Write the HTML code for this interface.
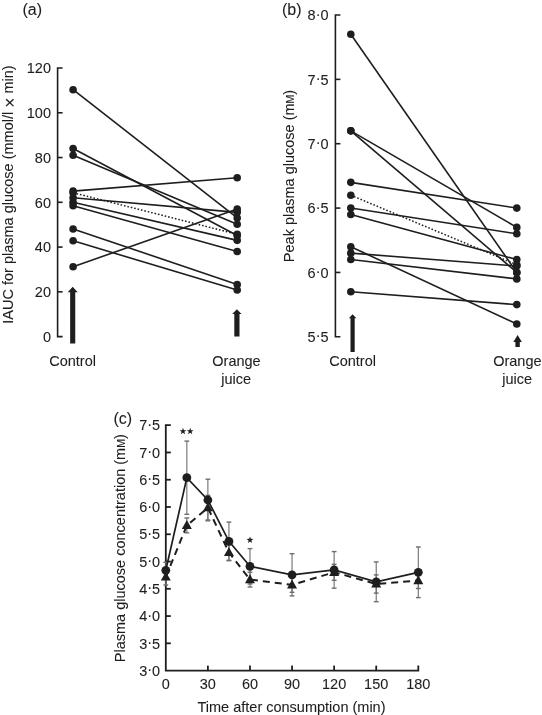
<!DOCTYPE html>
<html><head><meta charset="utf-8"><style>
html,body{margin:0;padding:0;background:#fff;}
svg{display:block;font-family:"Liberation Sans",sans-serif;will-change:transform;}
text{fill:#1e1e1e;stroke:#1e1e1e;stroke-width:0.08px;}
</style></head><body>
<svg width="542" height="715" viewBox="0 0 542 715">
<rect width="542" height="715" fill="#fff"/>
<text x="22.50" y="15.20" font-size="16" text-anchor="start" >(a)</text>
<path d="M62.6 68.0 H57.6 V336.6 H62.6" fill="none" stroke="#1e1e1e" stroke-width="1.6"/>
<line x1="57.60" y1="291.83" x2="62.60" y2="291.83" stroke="#1e1e1e" stroke-width="1.6" />
<line x1="57.60" y1="247.07" x2="62.60" y2="247.07" stroke="#1e1e1e" stroke-width="1.6" />
<line x1="57.60" y1="202.30" x2="62.60" y2="202.30" stroke="#1e1e1e" stroke-width="1.6" />
<line x1="57.60" y1="157.53" x2="62.60" y2="157.53" stroke="#1e1e1e" stroke-width="1.6" />
<line x1="57.60" y1="112.77" x2="62.60" y2="112.77" stroke="#1e1e1e" stroke-width="1.6" />
<text x="51.00" y="341.80" font-size="14.5" text-anchor="end" >0</text>
<text x="51.00" y="297.03" font-size="14.5" text-anchor="end" >20</text>
<text x="51.00" y="252.27" font-size="14.5" text-anchor="end" >40</text>
<text x="51.00" y="207.50" font-size="14.5" text-anchor="end" >60</text>
<text x="51.00" y="162.73" font-size="14.5" text-anchor="end" >80</text>
<text x="51.00" y="117.97" font-size="14.5" text-anchor="end" >100</text>
<text x="51.00" y="73.20" font-size="14.5" text-anchor="end" >120</text>
<text transform="translate(12.7,194.5) rotate(-90)" font-size="14.5" text-anchor="middle">IAUC for plasma glucose (mmol/l <tspan font-size="17.5" dy="3.2">×</tspan><tspan dy="-3.2"> min)</tspan></text>
<line x1="73.10" y1="89.71" x2="237.20" y2="217.97" stroke="#1e1e1e" stroke-width="1.6" />
<line x1="73.10" y1="148.58" x2="237.20" y2="235.43" stroke="#1e1e1e" stroke-width="1.6" />
<line x1="73.10" y1="155.30" x2="237.20" y2="224.24" stroke="#1e1e1e" stroke-width="1.6" />
<line x1="73.10" y1="191.11" x2="237.20" y2="177.68" stroke="#1e1e1e" stroke-width="1.6" />
<line x1="73.10" y1="197.82" x2="237.20" y2="212.37" stroke="#1e1e1e" stroke-width="1.6" />
<line x1="73.10" y1="202.30" x2="237.20" y2="240.35" stroke="#1e1e1e" stroke-width="1.6" />
<line x1="73.10" y1="205.66" x2="237.20" y2="251.54" stroke="#1e1e1e" stroke-width="1.6" />
<line x1="73.10" y1="228.94" x2="237.20" y2="284.45" stroke="#1e1e1e" stroke-width="1.6" />
<line x1="73.10" y1="240.80" x2="237.20" y2="290.04" stroke="#1e1e1e" stroke-width="1.6" />
<line x1="73.10" y1="266.76" x2="237.20" y2="209.02" stroke="#1e1e1e" stroke-width="1.6" />
<line x1="73.10" y1="192.70" x2="237.20" y2="234.31" stroke="#1e1e1e" stroke-width="1.5" stroke-dasharray="1.6 1.9"/>
<circle cx="73.10" cy="89.71" r="3.8" fill="#1e1e1e"/>
<circle cx="237.20" cy="217.97" r="3.8" fill="#1e1e1e"/>
<circle cx="73.10" cy="148.58" r="3.8" fill="#1e1e1e"/>
<circle cx="237.20" cy="235.43" r="3.8" fill="#1e1e1e"/>
<circle cx="73.10" cy="155.30" r="3.8" fill="#1e1e1e"/>
<circle cx="237.20" cy="224.24" r="3.8" fill="#1e1e1e"/>
<circle cx="73.10" cy="191.11" r="3.8" fill="#1e1e1e"/>
<circle cx="237.20" cy="177.68" r="3.8" fill="#1e1e1e"/>
<circle cx="73.10" cy="197.82" r="3.8" fill="#1e1e1e"/>
<circle cx="237.20" cy="212.37" r="3.8" fill="#1e1e1e"/>
<circle cx="73.10" cy="202.30" r="3.8" fill="#1e1e1e"/>
<circle cx="237.20" cy="240.35" r="3.8" fill="#1e1e1e"/>
<circle cx="73.10" cy="205.66" r="3.8" fill="#1e1e1e"/>
<circle cx="237.20" cy="251.54" r="3.8" fill="#1e1e1e"/>
<circle cx="73.10" cy="228.94" r="3.8" fill="#1e1e1e"/>
<circle cx="237.20" cy="284.45" r="3.8" fill="#1e1e1e"/>
<circle cx="73.10" cy="240.80" r="3.8" fill="#1e1e1e"/>
<circle cx="237.20" cy="290.04" r="3.8" fill="#1e1e1e"/>
<circle cx="73.10" cy="266.76" r="3.8" fill="#1e1e1e"/>
<circle cx="237.20" cy="209.02" r="3.8" fill="#1e1e1e"/>
<circle cx="73.10" cy="192.70" r="3.8" fill="#1e1e1e"/>
<circle cx="237.20" cy="234.31" r="3.8" fill="#1e1e1e"/>
<path d="M72.70 286.80 L77.70 292.20 L75.25 292.20 L75.25 343.40 L70.15 343.40 L70.15 292.20 L67.70 292.20 Z" fill="#1e1e1e"/>
<path d="M236.90 309.20 L241.55 314.10 L239.50 314.10 L239.50 336.50 L234.30 336.50 L234.30 314.10 L232.25 314.10 Z" fill="#1e1e1e"/>
<text x="72.60" y="366.40" font-size="14.5" text-anchor="middle" >Control</text>
<text x="236.50" y="366.40" font-size="14.5" text-anchor="middle" >Orange</text>
<text x="236.20" y="383.50" font-size="14.5" text-anchor="middle" >juice</text>
<text x="282.00" y="15.00" font-size="16" text-anchor="start" >(b)</text>
<path d="M340.4 15.0 H335.4 V336.8 H340.4" fill="none" stroke="#1e1e1e" stroke-width="1.6"/>
<line x1="335.40" y1="79.36" x2="340.40" y2="79.36" stroke="#1e1e1e" stroke-width="1.6" />
<line x1="335.40" y1="143.72" x2="340.40" y2="143.72" stroke="#1e1e1e" stroke-width="1.6" />
<line x1="335.40" y1="208.08" x2="340.40" y2="208.08" stroke="#1e1e1e" stroke-width="1.6" />
<line x1="335.40" y1="272.44" x2="340.40" y2="272.44" stroke="#1e1e1e" stroke-width="1.6" />
<text x="328.60" y="20.20" font-size="14.5" text-anchor="end" >8<tspan dy="-1.6">·</tspan><tspan dy="1.6">0</tspan></text>
<text x="328.60" y="84.56" font-size="14.5" text-anchor="end" >7<tspan dy="-1.6">·</tspan><tspan dy="1.6">5</tspan></text>
<text x="328.60" y="148.92" font-size="14.5" text-anchor="end" >7<tspan dy="-1.6">·</tspan><tspan dy="1.6">0</tspan></text>
<text x="328.60" y="213.28" font-size="14.5" text-anchor="end" >6<tspan dy="-1.6">·</tspan><tspan dy="1.6">5</tspan></text>
<text x="328.60" y="277.64" font-size="14.5" text-anchor="end" >6<tspan dy="-1.6">·</tspan><tspan dy="1.6">0</tspan></text>
<text x="328.60" y="342.00" font-size="14.5" text-anchor="end" >5<tspan dy="-1.6">·</tspan><tspan dy="1.6">5</tspan></text>
<text transform="translate(294.3,176) rotate(-90)" font-size="14.5" text-anchor="middle">Peak plasma glucose (m<tspan font-size="10.5">M</tspan>)</text>
<line x1="350.80" y1="34.31" x2="516.80" y2="272.44" stroke="#1e1e1e" stroke-width="1.6" />
<line x1="350.80" y1="130.85" x2="516.80" y2="227.39" stroke="#1e1e1e" stroke-width="1.6" />
<line x1="350.80" y1="130.85" x2="516.80" y2="272.44" stroke="#1e1e1e" stroke-width="1.6" />
<line x1="350.80" y1="182.34" x2="516.80" y2="208.08" stroke="#1e1e1e" stroke-width="1.6" />
<line x1="350.80" y1="208.08" x2="516.80" y2="233.82" stroke="#1e1e1e" stroke-width="1.6" />
<line x1="350.80" y1="214.52" x2="516.80" y2="259.57" stroke="#1e1e1e" stroke-width="1.6" />
<line x1="350.80" y1="246.70" x2="516.80" y2="323.93" stroke="#1e1e1e" stroke-width="1.6" />
<line x1="350.80" y1="253.13" x2="516.80" y2="266.00" stroke="#1e1e1e" stroke-width="1.6" />
<line x1="350.80" y1="259.57" x2="516.80" y2="278.88" stroke="#1e1e1e" stroke-width="1.6" />
<line x1="350.80" y1="291.75" x2="516.80" y2="304.62" stroke="#1e1e1e" stroke-width="1.6" />
<line x1="350.80" y1="195.21" x2="516.80" y2="264.72" stroke="#1e1e1e" stroke-width="1.5" stroke-dasharray="1.6 1.9"/>
<circle cx="350.80" cy="34.31" r="3.8" fill="#1e1e1e"/>
<circle cx="516.80" cy="272.44" r="3.8" fill="#1e1e1e"/>
<circle cx="350.80" cy="130.85" r="3.8" fill="#1e1e1e"/>
<circle cx="516.80" cy="227.39" r="3.8" fill="#1e1e1e"/>
<circle cx="350.80" cy="130.85" r="3.8" fill="#1e1e1e"/>
<circle cx="516.80" cy="272.44" r="3.8" fill="#1e1e1e"/>
<circle cx="350.80" cy="182.34" r="3.8" fill="#1e1e1e"/>
<circle cx="516.80" cy="208.08" r="3.8" fill="#1e1e1e"/>
<circle cx="350.80" cy="208.08" r="3.8" fill="#1e1e1e"/>
<circle cx="516.80" cy="233.82" r="3.8" fill="#1e1e1e"/>
<circle cx="350.80" cy="214.52" r="3.8" fill="#1e1e1e"/>
<circle cx="516.80" cy="259.57" r="3.8" fill="#1e1e1e"/>
<circle cx="350.80" cy="246.70" r="3.8" fill="#1e1e1e"/>
<circle cx="516.80" cy="323.93" r="3.8" fill="#1e1e1e"/>
<circle cx="350.80" cy="253.13" r="3.8" fill="#1e1e1e"/>
<circle cx="516.80" cy="266.00" r="3.8" fill="#1e1e1e"/>
<circle cx="350.80" cy="259.57" r="3.8" fill="#1e1e1e"/>
<circle cx="516.80" cy="278.88" r="3.8" fill="#1e1e1e"/>
<circle cx="350.80" cy="291.75" r="3.8" fill="#1e1e1e"/>
<circle cx="516.80" cy="304.62" r="3.8" fill="#1e1e1e"/>
<circle cx="350.80" cy="195.21" r="3.8" fill="#1e1e1e"/>
<circle cx="516.80" cy="264.72" r="3.8" fill="#1e1e1e"/>
<path d="M352.60 314.30 L356.35 318.30 L354.70 318.30 L354.70 352.00 L350.50 352.00 L350.50 318.30 L348.85 318.30 Z" fill="#1e1e1e"/>
<path d="M517.60 335.00 L521.85 342.10 L519.80 342.10 L519.80 347.10 L515.40 347.10 L515.40 342.10 L513.35 342.10 Z" fill="#1e1e1e"/>
<text x="352.60" y="366.40" font-size="14.5" text-anchor="middle" >Control</text>
<text x="517.40" y="366.40" font-size="14.5" text-anchor="middle" >Orange</text>
<text x="517.20" y="383.50" font-size="14.5" text-anchor="middle" >juice</text>
<text x="113.50" y="424.00" font-size="16" text-anchor="start" >(c)</text>
<path d="M170.8 425.2 H165.8 V670.6 H418.3 V665.6" fill="none" stroke="#1e1e1e" stroke-width="1.8"/>
<line x1="165.80" y1="643.33" x2="170.80" y2="643.33" stroke="#1e1e1e" stroke-width="1.8" />
<line x1="165.80" y1="616.07" x2="170.80" y2="616.07" stroke="#1e1e1e" stroke-width="1.8" />
<line x1="165.80" y1="588.80" x2="170.80" y2="588.80" stroke="#1e1e1e" stroke-width="1.8" />
<line x1="165.80" y1="561.53" x2="170.80" y2="561.53" stroke="#1e1e1e" stroke-width="1.8" />
<line x1="165.80" y1="534.27" x2="170.80" y2="534.27" stroke="#1e1e1e" stroke-width="1.8" />
<line x1="165.80" y1="507.00" x2="170.80" y2="507.00" stroke="#1e1e1e" stroke-width="1.8" />
<line x1="165.80" y1="479.73" x2="170.80" y2="479.73" stroke="#1e1e1e" stroke-width="1.8" />
<line x1="165.80" y1="452.47" x2="170.80" y2="452.47" stroke="#1e1e1e" stroke-width="1.8" />
<text x="160.20" y="675.80" font-size="14.5" text-anchor="end" >3<tspan dy="-1.6">·</tspan><tspan dy="1.6">0</tspan></text>
<text x="160.20" y="648.53" font-size="14.5" text-anchor="end" >3<tspan dy="-1.6">·</tspan><tspan dy="1.6">5</tspan></text>
<text x="160.20" y="621.27" font-size="14.5" text-anchor="end" >4<tspan dy="-1.6">·</tspan><tspan dy="1.6">0</tspan></text>
<text x="160.20" y="594.00" font-size="14.5" text-anchor="end" >4<tspan dy="-1.6">·</tspan><tspan dy="1.6">5</tspan></text>
<text x="160.20" y="566.73" font-size="14.5" text-anchor="end" >5<tspan dy="-1.6">·</tspan><tspan dy="1.6">0</tspan></text>
<text x="160.20" y="539.47" font-size="14.5" text-anchor="end" >5<tspan dy="-1.6">·</tspan><tspan dy="1.6">5</tspan></text>
<text x="160.20" y="512.20" font-size="14.5" text-anchor="end" >6<tspan dy="-1.6">·</tspan><tspan dy="1.6">0</tspan></text>
<text x="160.20" y="484.93" font-size="14.5" text-anchor="end" >6<tspan dy="-1.6">·</tspan><tspan dy="1.6">5</tspan></text>
<text x="160.20" y="457.67" font-size="14.5" text-anchor="end" >7<tspan dy="-1.6">·</tspan><tspan dy="1.6">0</tspan></text>
<text x="160.20" y="430.40" font-size="14.5" text-anchor="end" >7<tspan dy="-1.6">·</tspan><tspan dy="1.6">5</tspan></text>
<line x1="207.88" y1="670.60" x2="207.88" y2="665.60" stroke="#1e1e1e" stroke-width="1.8" />
<line x1="249.97" y1="670.60" x2="249.97" y2="665.60" stroke="#1e1e1e" stroke-width="1.8" />
<line x1="292.05" y1="670.60" x2="292.05" y2="665.60" stroke="#1e1e1e" stroke-width="1.8" />
<line x1="334.13" y1="670.60" x2="334.13" y2="665.60" stroke="#1e1e1e" stroke-width="1.8" />
<line x1="376.22" y1="670.60" x2="376.22" y2="665.60" stroke="#1e1e1e" stroke-width="1.8" />
<text x="165.80" y="689.00" font-size="14.5" text-anchor="middle" >0</text>
<text x="207.88" y="689.00" font-size="14.5" text-anchor="middle" >30</text>
<text x="249.97" y="689.00" font-size="14.5" text-anchor="middle" >60</text>
<text x="292.05" y="689.00" font-size="14.5" text-anchor="middle" >90</text>
<text x="334.13" y="689.00" font-size="14.5" text-anchor="middle" >120</text>
<text x="376.22" y="689.00" font-size="14.5" text-anchor="middle" >150</text>
<text x="418.30" y="689.00" font-size="14.5" text-anchor="middle" >180</text>
<text x="291.50" y="711.80" font-size="14.5" text-anchor="middle" >Time after consumption (min)</text>
<text transform="translate(125.0,548.2) rotate(-90)" font-size="14.5" text-anchor="middle">Plasma glucose concentration (m<tspan font-size="10.5">M</tspan>)</text>
<line x1="165.80" y1="569.00" x2="165.80" y2="585.00" stroke="#6e6e6e" stroke-width="1.1" />
<line x1="163.40" y1="569.00" x2="168.20" y2="569.00" stroke="#6e6e6e" stroke-width="1.4" />
<line x1="163.40" y1="585.00" x2="168.20" y2="585.00" stroke="#6e6e6e" stroke-width="1.4" />
<line x1="165.80" y1="562.30" x2="165.80" y2="578.30" stroke="#6e6e6e" stroke-width="1.1" />
<line x1="163.40" y1="562.30" x2="168.20" y2="562.30" stroke="#6e6e6e" stroke-width="1.4" />
<line x1="163.40" y1="578.30" x2="168.20" y2="578.30" stroke="#6e6e6e" stroke-width="1.4" />
<line x1="186.84" y1="518.00" x2="186.84" y2="532.80" stroke="#6e6e6e" stroke-width="1.1" />
<line x1="184.44" y1="518.00" x2="189.24" y2="518.00" stroke="#6e6e6e" stroke-width="1.4" />
<line x1="184.44" y1="532.80" x2="189.24" y2="532.80" stroke="#6e6e6e" stroke-width="1.4" />
<line x1="186.84" y1="441.10" x2="186.84" y2="514.30" stroke="#6e6e6e" stroke-width="1.1" />
<line x1="184.44" y1="441.10" x2="189.24" y2="441.10" stroke="#6e6e6e" stroke-width="1.4" />
<line x1="184.44" y1="514.30" x2="189.24" y2="514.30" stroke="#6e6e6e" stroke-width="1.4" />
<line x1="207.88" y1="495.40" x2="207.88" y2="520.00" stroke="#6e6e6e" stroke-width="1.1" />
<line x1="205.48" y1="495.40" x2="210.28" y2="495.40" stroke="#6e6e6e" stroke-width="1.4" />
<line x1="205.48" y1="520.00" x2="210.28" y2="520.00" stroke="#6e6e6e" stroke-width="1.4" />
<line x1="207.88" y1="479.20" x2="207.88" y2="520.80" stroke="#6e6e6e" stroke-width="1.1" />
<line x1="205.48" y1="479.20" x2="210.28" y2="479.20" stroke="#6e6e6e" stroke-width="1.4" />
<line x1="205.48" y1="520.80" x2="210.28" y2="520.80" stroke="#6e6e6e" stroke-width="1.4" />
<line x1="228.93" y1="544.70" x2="228.93" y2="560.30" stroke="#6e6e6e" stroke-width="1.1" />
<line x1="226.53" y1="544.70" x2="231.33" y2="544.70" stroke="#6e6e6e" stroke-width="1.4" />
<line x1="226.53" y1="560.30" x2="231.33" y2="560.30" stroke="#6e6e6e" stroke-width="1.4" />
<line x1="228.93" y1="522.10" x2="228.93" y2="560.70" stroke="#6e6e6e" stroke-width="1.1" />
<line x1="226.53" y1="522.10" x2="231.33" y2="522.10" stroke="#6e6e6e" stroke-width="1.4" />
<line x1="226.53" y1="560.70" x2="231.33" y2="560.70" stroke="#6e6e6e" stroke-width="1.4" />
<line x1="249.97" y1="572.20" x2="249.97" y2="587.00" stroke="#6e6e6e" stroke-width="1.1" />
<line x1="247.57" y1="572.20" x2="252.37" y2="572.20" stroke="#6e6e6e" stroke-width="1.4" />
<line x1="247.57" y1="587.00" x2="252.37" y2="587.00" stroke="#6e6e6e" stroke-width="1.4" />
<line x1="249.97" y1="548.60" x2="249.97" y2="584.00" stroke="#6e6e6e" stroke-width="1.1" />
<line x1="247.57" y1="548.60" x2="252.37" y2="548.60" stroke="#6e6e6e" stroke-width="1.4" />
<line x1="247.57" y1="584.00" x2="252.37" y2="584.00" stroke="#6e6e6e" stroke-width="1.4" />
<line x1="292.05" y1="577.30" x2="292.05" y2="592.30" stroke="#6e6e6e" stroke-width="1.1" />
<line x1="289.65" y1="577.30" x2="294.45" y2="577.30" stroke="#6e6e6e" stroke-width="1.4" />
<line x1="289.65" y1="592.30" x2="294.45" y2="592.30" stroke="#6e6e6e" stroke-width="1.4" />
<line x1="292.05" y1="553.70" x2="292.05" y2="595.90" stroke="#6e6e6e" stroke-width="1.1" />
<line x1="289.65" y1="553.70" x2="294.45" y2="553.70" stroke="#6e6e6e" stroke-width="1.4" />
<line x1="289.65" y1="595.90" x2="294.45" y2="595.90" stroke="#6e6e6e" stroke-width="1.4" />
<line x1="334.13" y1="564.30" x2="334.13" y2="580.30" stroke="#6e6e6e" stroke-width="1.1" />
<line x1="331.73" y1="564.30" x2="336.53" y2="564.30" stroke="#6e6e6e" stroke-width="1.4" />
<line x1="331.73" y1="580.30" x2="336.53" y2="580.30" stroke="#6e6e6e" stroke-width="1.4" />
<line x1="334.13" y1="551.60" x2="334.13" y2="588.20" stroke="#6e6e6e" stroke-width="1.1" />
<line x1="331.73" y1="551.60" x2="336.53" y2="551.60" stroke="#6e6e6e" stroke-width="1.4" />
<line x1="331.73" y1="588.20" x2="336.53" y2="588.20" stroke="#6e6e6e" stroke-width="1.4" />
<line x1="376.22" y1="574.90" x2="376.22" y2="593.10" stroke="#6e6e6e" stroke-width="1.1" />
<line x1="373.82" y1="574.90" x2="378.62" y2="574.90" stroke="#6e6e6e" stroke-width="1.4" />
<line x1="373.82" y1="593.10" x2="378.62" y2="593.10" stroke="#6e6e6e" stroke-width="1.4" />
<line x1="376.22" y1="561.90" x2="376.22" y2="601.70" stroke="#6e6e6e" stroke-width="1.1" />
<line x1="373.82" y1="561.90" x2="378.62" y2="561.90" stroke="#6e6e6e" stroke-width="1.4" />
<line x1="373.82" y1="601.70" x2="378.62" y2="601.70" stroke="#6e6e6e" stroke-width="1.4" />
<line x1="418.30" y1="572.70" x2="418.30" y2="588.50" stroke="#6e6e6e" stroke-width="1.1" />
<line x1="415.90" y1="572.70" x2="420.70" y2="572.70" stroke="#6e6e6e" stroke-width="1.4" />
<line x1="415.90" y1="588.50" x2="420.70" y2="588.50" stroke="#6e6e6e" stroke-width="1.4" />
<line x1="418.30" y1="547.00" x2="418.30" y2="597.60" stroke="#6e6e6e" stroke-width="1.1" />
<line x1="415.90" y1="547.00" x2="420.70" y2="547.00" stroke="#6e6e6e" stroke-width="1.4" />
<line x1="415.90" y1="597.60" x2="420.70" y2="597.60" stroke="#6e6e6e" stroke-width="1.4" />
<polyline points="165.80,577.00 186.84,525.40 207.88,507.70 228.93,552.50 249.97,579.60 292.05,584.80 334.13,572.30 376.22,584.00 418.30,580.60" fill="none" stroke="#1e1e1e" stroke-width="2" stroke-dasharray="7 5"/>
<polyline points="165.80,570.30 186.84,477.70 207.88,500.00 228.93,541.40 249.97,566.30 292.05,574.80 334.13,569.90 376.22,581.80 418.30,572.30" fill="none" stroke="#1e1e1e" stroke-width="1.7"/>
<path d="M165.80 571.70 L170.80 580.60 L160.80 580.60 Z" fill="#1e1e1e"/>
<path d="M186.84 520.10 L191.84 529.00 L181.84 529.00 Z" fill="#1e1e1e"/>
<path d="M207.88 502.40 L212.88 511.30 L202.88 511.30 Z" fill="#1e1e1e"/>
<path d="M228.93 547.20 L233.93 556.10 L223.93 556.10 Z" fill="#1e1e1e"/>
<path d="M249.97 574.30 L254.97 583.20 L244.97 583.20 Z" fill="#1e1e1e"/>
<path d="M292.05 579.50 L297.05 588.40 L287.05 588.40 Z" fill="#1e1e1e"/>
<path d="M334.13 567.00 L339.13 575.90 L329.13 575.90 Z" fill="#1e1e1e"/>
<path d="M376.22 578.70 L381.22 587.60 L371.22 587.60 Z" fill="#1e1e1e"/>
<path d="M418.30 575.30 L423.30 584.20 L413.30 584.20 Z" fill="#1e1e1e"/>
<circle cx="165.80" cy="570.30" r="4.4" fill="#1e1e1e"/>
<circle cx="186.84" cy="477.70" r="4.4" fill="#1e1e1e"/>
<circle cx="207.88" cy="500.00" r="4.4" fill="#1e1e1e"/>
<circle cx="228.93" cy="541.40" r="4.4" fill="#1e1e1e"/>
<circle cx="249.97" cy="566.30" r="4.4" fill="#1e1e1e"/>
<circle cx="292.05" cy="574.80" r="4.4" fill="#1e1e1e"/>
<circle cx="334.13" cy="569.90" r="4.4" fill="#1e1e1e"/>
<circle cx="376.22" cy="581.80" r="4.4" fill="#1e1e1e"/>
<circle cx="418.30" cy="572.30" r="4.4" fill="#1e1e1e"/>
<polygon points="183.00,427.70 183.85,430.13 186.42,430.19 184.38,431.75 185.12,434.21 183.00,432.75 180.88,434.21 181.62,431.75 179.58,430.19 182.15,430.13" fill="#1e1e1e"/>
<polygon points="190.20,427.70 191.05,430.13 193.62,430.19 191.58,431.75 192.32,434.21 190.20,432.75 188.08,434.21 188.82,431.75 186.78,430.19 189.35,430.13" fill="#1e1e1e"/>
<polygon points="250.00,536.40 250.85,538.83 253.42,538.89 251.38,540.45 252.12,542.91 250.00,541.45 247.88,542.91 248.62,540.45 246.58,538.89 249.15,538.83" fill="#1e1e1e"/>
</svg>
</body></html>
